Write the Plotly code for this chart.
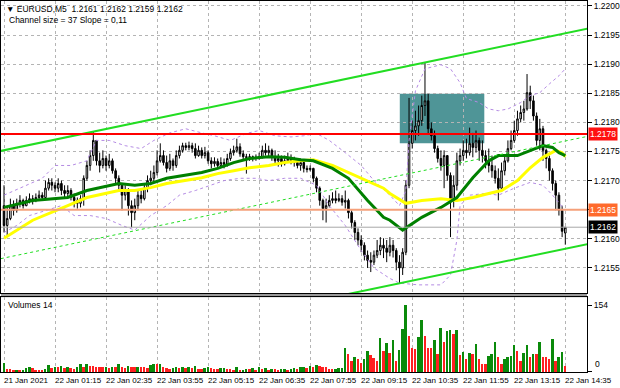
import plotly.graph_objects as go

# ---------------- data ----------------
bar_index = list(range(177))

closes = [
    1.21623, 1.21635, 1.21657, 1.21649, 1.21661, 1.21666, 1.21657, 1.21666, 1.21669, 1.21666,
    1.21671, 1.21675, 1.21671, 1.21687, 1.21697, 1.21692, 1.21687, 1.21695, 1.21683, 1.21678,
    1.21683, 1.21671, 1.21666, 1.21661, 1.21669, 1.21704, 1.21726, 1.21743, 1.21769, 1.21734,
    1.21726, 1.21738, 1.21726, 1.21734, 1.21717, 1.21704, 1.21692, 1.21675, 1.21683, 1.21657,
    1.21645, 1.21657, 1.21675, 1.21669, 1.21687, 1.21700, 1.21704, 1.21714, 1.21734, 1.21743,
    1.21731, 1.21721, 1.21734, 1.21726, 1.21743, 1.21752, 1.21760, 1.21757, 1.21760, 1.21755,
    1.21743, 1.21752, 1.21743, 1.21748, 1.21734, 1.21729, 1.21733, 1.21726, 1.21731, 1.21728,
    1.21738, 1.21748, 1.21752, 1.21758, 1.21746, 1.21741, 1.21740, 1.21741, 1.21738, 1.21740,
    1.21741, 1.21752, 1.21748, 1.21752, 1.21741, 1.21734, 1.21738, 1.21729, 1.21734, 1.21738,
    1.21734, 1.21731, 1.21726, 1.21731, 1.21721, 1.21719, 1.21721, 1.21704, 1.21687, 1.21666,
    1.21652, 1.21657, 1.21666, 1.21669, 1.21666, 1.21669, 1.21663, 1.21666, 1.21645, 1.21628,
    1.21611, 1.21598, 1.21589, 1.21572, 1.21563, 1.21560, 1.21572, 1.21580, 1.21589, 1.21584,
    1.21577, 1.21589, 1.21580, 1.21560, 1.21550, 1.21577, 1.21692, 1.21764, 1.21786, 1.21794,
    1.21803, 1.21829, 1.21837, 1.21789, 1.21777, 1.21755, 1.21738, 1.21726, 1.21743, 1.21709,
    1.21666, 1.21692, 1.21734, 1.21743, 1.21752, 1.21748, 1.21764, 1.21757, 1.21769, 1.21752,
    1.21743, 1.21734, 1.21726, 1.21717, 1.21704, 1.21687, 1.21717, 1.21734, 1.21755, 1.21769,
    1.21786, 1.21806, 1.21817, 1.21823, 1.21851, 1.21837, 1.21811, 1.21769, 1.21789, 1.21752,
    1.21738, 1.21717, 1.21695, 1.21675, 1.21649, 1.21613, 1.21620,
]

highs = [
    1.21692, 1.21657, 1.21669, 1.21666, 1.21669, 1.21675, 1.21669, 1.21673, 1.21678, 1.21675,
    1.21678, 1.21683, 1.21680, 1.21700, 1.21704, 1.21704, 1.21697, 1.21704, 1.21700, 1.21692,
    1.21692, 1.21687, 1.21678, 1.21671, 1.21675, 1.21709, 1.21734, 1.21752, 1.21784, 1.21769,
    1.21748, 1.21752, 1.21743, 1.21746, 1.21738, 1.21721, 1.21709, 1.21695, 1.21692, 1.21687,
    1.21666, 1.21669, 1.21683, 1.21683, 1.21695, 1.21709, 1.21717, 1.21726, 1.21752, 1.21764,
    1.21752, 1.21743, 1.21746, 1.21738, 1.21752, 1.21760, 1.21765, 1.21765, 1.21767, 1.21765,
    1.21764, 1.21760, 1.21757, 1.21758, 1.21752, 1.21740, 1.21740, 1.21738, 1.21740, 1.21738,
    1.21746, 1.21755, 1.21760, 1.21772, 1.21764, 1.21752, 1.21746, 1.21746, 1.21743, 1.21745,
    1.21748, 1.21760, 1.21764, 1.21760, 1.21755, 1.21752, 1.21746, 1.21743, 1.21743, 1.21748,
    1.21745, 1.21741, 1.21738, 1.21738, 1.21734, 1.21726, 1.21726, 1.21722, 1.21707, 1.21690,
    1.21669, 1.21669, 1.21675, 1.21680, 1.21683, 1.21678, 1.21675, 1.21683, 1.21669, 1.21649,
    1.21632, 1.21618, 1.21606, 1.21594, 1.21580, 1.21577, 1.21580, 1.21598, 1.21603, 1.21601,
    1.21598, 1.21603, 1.21598, 1.21584, 1.21572, 1.21584, 1.21700, 1.21842, 1.21803, 1.21820,
    1.21829, 1.21846, 1.21902, 1.21849, 1.21800, 1.21786, 1.21760, 1.21752, 1.21752, 1.21743,
    1.21714, 1.21709, 1.21748, 1.21755, 1.21769, 1.21772, 1.21791, 1.21782, 1.21786, 1.21774,
    1.21769, 1.21752, 1.21755, 1.21743, 1.21726, 1.21721, 1.21731, 1.21743, 1.21769, 1.21786,
    1.21803, 1.21820, 1.21829, 1.21837, 1.21883, 1.21863, 1.21846, 1.21817, 1.21806, 1.21794,
    1.21755, 1.21743, 1.21721, 1.21700, 1.21680, 1.21657, 1.21620,
]

lows = [
    1.21611, 1.21603, 1.21632, 1.21640, 1.21645, 1.21654, 1.21652, 1.21656, 1.21661, 1.21659,
    1.21663, 1.21666, 1.21666, 1.21669, 1.21683, 1.21683, 1.21680, 1.21680, 1.21675, 1.21671,
    1.21671, 1.21666, 1.21654, 1.21652, 1.21654, 1.21657, 1.21700, 1.21717, 1.21734, 1.21726,
    1.21714, 1.21721, 1.21717, 1.21721, 1.21712, 1.21695, 1.21683, 1.21649, 1.21666, 1.21640,
    1.21620, 1.21632, 1.21649, 1.21661, 1.21666, 1.21680, 1.21692, 1.21697, 1.21709, 1.21731,
    1.21726, 1.21714, 1.21717, 1.21717, 1.21722, 1.21738, 1.21748, 1.21752, 1.21752, 1.21748,
    1.21738, 1.21741, 1.21738, 1.21738, 1.21729, 1.21721, 1.21724, 1.21721, 1.21722, 1.21721,
    1.21724, 1.21734, 1.21743, 1.21748, 1.21741, 1.21734, 1.21712, 1.21734, 1.21733, 1.21734,
    1.21736, 1.21738, 1.21743, 1.21741, 1.21734, 1.21728, 1.21724, 1.21724, 1.21726, 1.21731,
    1.21728, 1.21724, 1.21721, 1.21717, 1.21714, 1.21714, 1.21716, 1.21697, 1.21680, 1.21657,
    1.21632, 1.21628, 1.21654, 1.21661, 1.21661, 1.21663, 1.21657, 1.21652, 1.21635, 1.21618,
    1.21598, 1.21589, 1.21577, 1.21563, 1.21550, 1.21543, 1.21555, 1.21567, 1.21572, 1.21567,
    1.21560, 1.21570, 1.21568, 1.21546, 1.21524, 1.21538, 1.21572, 1.21687, 1.21755, 1.21769,
    1.21777, 1.21794, 1.21811, 1.21781, 1.21769, 1.21748, 1.21731, 1.21717, 1.21687, 1.21700,
    1.21603, 1.21654, 1.21683, 1.21726, 1.21734, 1.21738, 1.21743, 1.21740, 1.21748, 1.21734,
    1.21731, 1.21721, 1.21714, 1.21705, 1.21695, 1.21666, 1.21683, 1.21709, 1.21731, 1.21752,
    1.21765, 1.21777, 1.21800, 1.21803, 1.21820, 1.21823, 1.21803, 1.21760, 1.21752, 1.21734,
    1.21721, 1.21700, 1.21683, 1.21649, 1.21640, 1.21603, 1.21590,
]

first_open = 1.21657
last_open = 1.2161

volumes = [
    21, 7, 6, 3, 5, 4, 5, 9, 11, 8,
    5, 4, 3, 6, 16, 9, 12, 11, 14, 9,
    10, 8, 7, 12, 17, 11, 19, 14, 13, 12,
    11, 10, 12, 9, 11, 10, 19, 12, 9, 14,
    11, 10, 12, 11, 10, 9, 16, 17, 17, 18,
    10, 9, 7, 8, 10, 8, 11, 9, 12, 8,
    14, 7, 6, 9, 10, 8, 7, 6, 8, 9,
    7, 6, 5, 12, 4, 5, 7, 6, 9, 5,
    11, 6, 8, 5, 7, 6, 5, 6, 7, 5,
    6, 8, 7, 10, 12, 9, 13, 11, 16, 13,
    12, 11, 7, 6, 7, 8, 9,
    54, 42, 25, 33, 29, 21, 29, 48, 39, 31,
    24, 78, 48, 67, 44, 74, 25, 49, 99, 154,
    83, 54, 52, 80, 118, 83, 55, 55, 73, 42,
    101, 68, 93, 97, 87, 95, 39, 46, 30, 44,
    40, 65, 29, 17, 17, 36, 42, 68, 33, 19,
    30, 33, 36, 61, 48, 25, 44, 61, 33, 42,
    40, 68, 34, 34, 29, 76, 25, 35, 46, 14,
]

ma_green_idx = [0, 9, 20, 26, 36, 41, 46, 51, 62, 67, 72, 77, 83, 88, 93, 97, 103, 108, 114,
                119, 121, 125, 131, 137, 142, 147, 152, 155, 161, 165, 169, 172, 174, 176]
ma_green = [1.21654, 1.21666, 1.21671, 1.21683, 1.21695, 1.21692, 1.21695, 1.21704, 1.21714,
            1.21721, 1.21731, 1.21738, 1.21741, 1.21740, 1.21736, 1.21734, 1.21721, 1.21704,
            1.21666, 1.21637, 1.21632, 1.21615, 1.21637, 1.21654, 1.21671, 1.21705, 1.21734,
            1.21743, 1.21743, 1.21752, 1.21760, 1.21757, 1.21748, 1.21743]

ma_yellow_idx = [0, 9, 20, 26, 36, 41, 46, 51, 62, 67, 72, 77, 83, 88, 93, 97, 103, 108, 114,
                 119, 121, 126, 131, 137, 142, 147, 152, 156, 161, 165, 169, 173, 175, 176]
ma_yellow = [1.21601, 1.21632, 1.21657, 1.21671, 1.21683, 1.21683, 1.21688, 1.21695, 1.21705,
             1.21712, 1.21717, 1.21722, 1.21726, 1.21731, 1.21734, 1.21736, 1.21726, 1.21714,
             1.21700, 1.21687, 1.21678, 1.21661, 1.21666, 1.21669, 1.21666, 1.21671, 1.21678,
             1.21683, 1.21700, 1.21722, 1.21740, 1.21752, 1.21748, 1.21741]

bb_upper_idx = [0, 5, 12, 16, 21, 26, 29, 33, 38, 43, 47, 52, 57, 62, 66, 71, 76, 80, 85, 90,
                94, 98, 102, 107, 112, 116, 121, 124, 126, 127, 129, 132, 137, 140, 143, 145,
                149, 152, 155, 158, 162, 165, 168, 171, 174, 176]
bb_upper = [1.21675, 1.21687, 1.21704, 1.21726, 1.21726, 1.21734, 1.21769, 1.21769, 1.21760,
            1.21755, 1.21769, 1.21782, 1.21789, 1.21782, 1.21777, 1.21769, 1.21781, 1.21786,
            1.21777, 1.21775, 1.21777, 1.21781, 1.21769, 1.21748, 1.21726, 1.21700, 1.21675,
            1.21657, 1.21683, 1.21769, 1.21854, 1.21892, 1.21899, 1.21892, 1.21868, 1.21841,
            1.21834, 1.21823, 1.21820, 1.21823, 1.21834, 1.21846, 1.21851, 1.21866, 1.21880,
            1.21892]

bb_lower_idx = [0, 4, 8, 13, 18, 22, 27, 32, 37, 41, 46, 51, 55, 60, 65, 69, 74, 79, 83, 88,
                93, 98, 102, 107, 112, 116, 121, 124, 130, 137, 140, 142, 143, 146, 151, 155,
                160, 165, 169, 172, 176]
bb_lower = [1.21611, 1.21623, 1.21640, 1.21649, 1.21657, 1.21640, 1.21640, 1.21635, 1.21623,
            1.21615, 1.21640, 1.21657, 1.21675, 1.21683, 1.21692, 1.21700, 1.21704, 1.21704,
            1.21700, 1.21704, 1.21704, 1.21692, 1.21657, 1.21623, 1.21580, 1.21550, 1.21532,
            1.21524, 1.21521, 1.21521, 1.21538, 1.21598, 1.21657, 1.21675, 1.21678, 1.21675,
            1.21687, 1.21697, 1.21692, 1.21675, 1.21649]

channel_idx = [-1, 183]
channel_upper = [1.21751, 1.21961]
channel_size = 0.0037

resistance_level = 1.2178
support_level = 1.2165
last_price = 1.2162

zone_idx = [124.1, 150.6]
zone_price = [1.21764, 1.21849]

time_tick_idx = [0, 16, 32, 48, 64, 80, 96, 112, 128, 144, 160, 176]
time_tick_text = ["21 Jan 2021", "22 Jan 01:15", "22 Jan 02:35", "22 Jan 03:55",
                  "22 Jan 05:15", "22 Jan 06:35", "22 Jan 07:55", "22 Jan 09:15",
                  "22 Jan 10:35", "22 Jan 11:55", "22 Jan 13:15", "22 Jan 14:35"]
price_ticks = [1.2155, 1.2160, 1.2165, 1.2170, 1.2175, 1.2180, 1.2185, 1.2190, 1.2195, 1.2200]
volume_ticks = [0, 154]

symbol_text = "\u25bc EURUSD,M5  1.2161 1.2162 1.2159 1.2162"
channel_text = "Channel size = 37 Slope = 0,11"
volume_text = "Volumes 14"

# ---------------- derived ----------------
opens = [first_open] + closes[:-1]
opens[-1] = last_open
channel_lower = [v - channel_size for v in channel_upper]
channel_mid = [v - channel_size / 2 for v in channel_upper]
vol_colors = ["#0a8a0a" if (i == 0 or volumes[i] > volumes[i - 1]) else "#ff2020"
              for i in range(len(volumes))]
boxed_levels = [resistance_level, support_level, last_price]
# tick labels hidden where an opaque level box covers them in the reference
price_ticktext = ["" if any(abs(p - b) < 1e-9 for b in boxed_levels) else f"{p:.4f}"
                  for p in price_ticks]

FONT = "Liberation Sans, Arial, DejaVu Sans, sans-serif"
GRID = "#b4b4b4"

fig = go.Figure()

fig.add_trace(go.Candlestick(
    x=bar_index, open=opens, high=highs, low=lows, close=closes,
    xaxis="x", yaxis="y", whiskerwidth=0,
    increasing=dict(line=dict(color="black", width=1), fillcolor="white"),
    decreasing=dict(line=dict(color="black", width=1), fillcolor="black"),
    showlegend=False, hoverinfo="skip"))

# Bollinger-type bands
for xs, ys in ((bb_upper_idx, bb_upper), (bb_lower_idx, bb_lower)):
    fig.add_trace(go.Scatter(x=xs, y=ys, mode="lines", xaxis="x", yaxis="y",
                             line=dict(color="#b48be3", width=1, dash="dot"),
                             showlegend=False, hoverinfo="skip"))

# moving averages
fig.add_trace(go.Scatter(x=ma_yellow_idx, y=ma_yellow, mode="lines", xaxis="x", yaxis="y",
                         line=dict(color="#ffff00", width=3), showlegend=False, hoverinfo="skip"))
fig.add_trace(go.Scatter(x=ma_green_idx, y=ma_green, mode="lines", xaxis="x", yaxis="y",
                         line=dict(color="#008000", width=3), showlegend=False, hoverinfo="skip"))

# channel
fig.add_trace(go.Scatter(x=channel_idx, y=channel_upper, mode="lines", xaxis="x", yaxis="y",
                         line=dict(color="#22dd22", width=2), showlegend=False, hoverinfo="skip"))
fig.add_trace(go.Scatter(x=channel_idx, y=channel_lower, mode="lines", xaxis="x", yaxis="y",
                         line=dict(color="#22dd22", width=2), showlegend=False, hoverinfo="skip"))
fig.add_trace(go.Scatter(x=channel_idx, y=channel_mid, mode="lines", xaxis="x", yaxis="y",
                         line=dict(color="#22dd22", width=1, dash="3px,3px"),
                         showlegend=False, hoverinfo="skip"))

# horizontal levels
for lvl, col, w in ((last_price, "#a8a8a8", 1), (support_level, "#f5a07a", 2),
                    (resistance_level, "#ff0000", 2)):
    fig.add_trace(go.Scatter(x=channel_idx, y=[lvl, lvl], mode="lines", xaxis="x", yaxis="y",
                             line=dict(color=col, width=w), showlegend=False, hoverinfo="skip"))

# volumes
fig.add_trace(go.Bar(x=bar_index, y=volumes, xaxis="x2", yaxis="y2", width=0.62,
                     marker=dict(color=vol_colors, line=dict(width=0)),
                     showlegend=False, hoverinfo="skip"))

shapes = [
    dict(type="rect", xref="x", yref="y", x0=zone_idx[0], x1=zone_idx[1],
         y0=zone_price[0], y1=zone_price[1], fillcolor="#4f9597", line=dict(width=0),
         layer="below"),
    dict(type="rect", xref="paper", yref="paper", x0=0, x1=1, y0=0.2016, y1=0.2124,
         fillcolor="#9a9a9a", line=dict(width=0), layer="below"),
]

annotations = []
for t, txt in zip(time_tick_idx, time_tick_text):
    annotations.append(dict(x=t, y=0, xref="x2", yref="paper", text=txt, showarrow=False,
                            xanchor="left", yanchor="top", xshift=-2, yshift=-2,
                            font=dict(family=FONT, size=8, color="black")))
for lvl, bg in ((resistance_level, "#ff1010"), (support_level, "#ff6a2c"), (last_price, "#000000")):
    annotations.append(dict(x=1, y=lvl, xref="paper", yref="y", text=f"{lvl:.4f}",
                            showarrow=False, xanchor="left", yanchor="middle", xshift=1,
                            bgcolor=bg, borderpad=1,
                            font=dict(family=FONT, size=8.5, color="white")))
annotations.append(dict(x=1, y=volume_ticks[0], xref="paper", yref="y2",
                        text=str(volume_ticks[0]), showarrow=False, xanchor="left",
                        yanchor="bottom", xshift=6, yshift=1,
                        font=dict(family=FONT, size=8.5, color="black")))
annotations.append(dict(x=0, y=1, xref="paper", yref="paper", text=symbol_text, showarrow=False,
                        xanchor="left", yanchor="top", xshift=3, yshift=-1,
                        font=dict(family=FONT, size=8.5, color="black")))
annotations.append(dict(x=0, y=1, xref="paper", yref="paper", text=channel_text, showarrow=False,
                        xanchor="left", yanchor="top", xshift=6, yshift=-12,
                        font=dict(family=FONT, size=8.5, color="black")))
annotations.append(dict(x=0, y=0.2016, xref="paper", yref="paper", text=volume_text,
                        showarrow=False, xanchor="left", yanchor="top", xshift=5, yshift=-1,
                        font=dict(family=FONT, size=8.5, color="black")))

axis_common = dict(showline=True, linecolor="black", linewidth=1, mirror=True, zeroline=False)

fig.update_layout(
    width=620, height=388,
    margin=dict(l=0, r=32, t=0, b=16),
    paper_bgcolor="white", plot_bgcolor="white",
    font=dict(family=FONT, size=8.5, color="black"),
    showlegend=False,
    bargap=0,
    xaxis=dict(domain=[0, 1], anchor="y", range=[-0.94, 182.8], tickvals=time_tick_idx,
               showticklabels=False, ticks="", showgrid=True, gridcolor=GRID,
               griddash="3px,3px", gridwidth=1, rangeslider=dict(visible=False), **axis_common),
    yaxis=dict(domain=[0.2124, 1], anchor="x", range=[1.215067, 1.220084], side="right",
               tickvals=price_ticks, ticktext=price_ticktext,
               ticks="outside", ticklen=4, tickcolor="black", showgrid=True, gridcolor=GRID,
               griddash="3px,3px", gridwidth=1, tickfont=dict(size=8.5), **axis_common),
    xaxis2=dict(domain=[0, 1], anchor="y2", range=[-0.94, 182.8], matches="x",
                tickvals=time_tick_idx, showticklabels=False, ticks="", showgrid=True,
                gridcolor=GRID, griddash="3px,3px", gridwidth=1, **axis_common),
    yaxis2=dict(domain=[0, 0.2016], anchor="x2", range=[0, 172], side="right",
                tickvals=volume_ticks, ticktext=["", str(volume_ticks[1])],
                ticks="outside", ticklen=4, tickcolor="black", showgrid=False,
                tickfont=dict(size=8.5), **axis_common),
    shapes=shapes,
    annotations=annotations,
)

fig.write_html("out.html")
